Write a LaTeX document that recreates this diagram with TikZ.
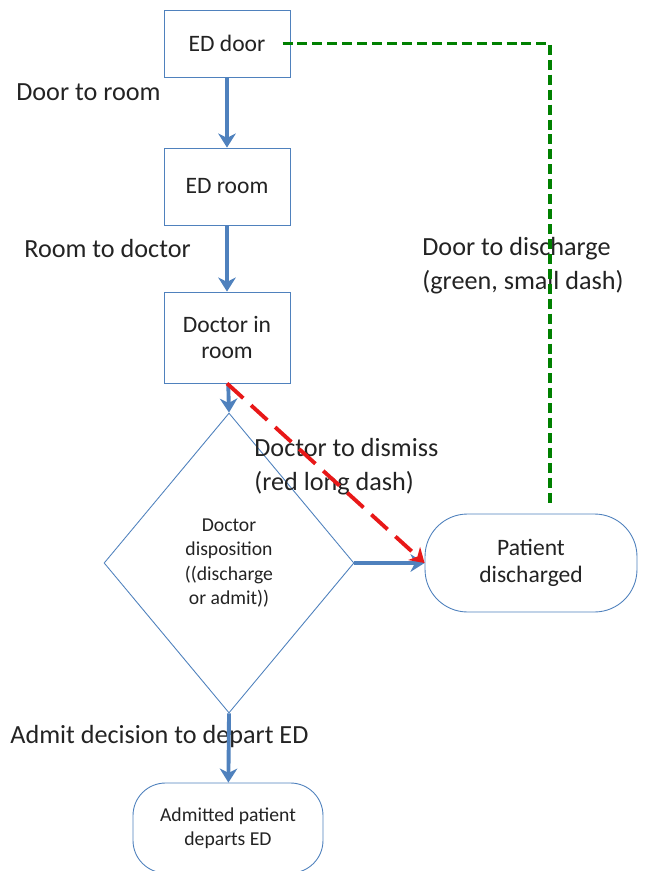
\documentclass[tikz,border=0pt]{standalone}
\usepackage{fontspec}
\setmainfont{Carlito}
\usetikzlibrary{arrows.meta,shapes.geometric}
\definecolor{edblue}{RGB}{79,129,189}
\definecolor{edgreen}{RGB}{0,128,0}
\definecolor{edred}{RGB}{232,24,24}
\definecolor{edtext}{RGB}{35,35,35}
\tikzset{
  stepbox/.style={draw=edblue, line width=0.5pt, fill=white, text=edtext,
    align=center, minimum width=2.52cm, inner sep=0pt,
    font=\fontsize{13.4}{15.3}\selectfont},
  endbox/.style={stepbox, rounded corners=0.85cm},
  flow/.style={edblue, line width=2.2pt, -{Stealth[length=8pt,width=10pt,inset=2.5pt]}},
  lbl/.style={anchor=west, align=left, text=edtext, inner sep=0pt,
    font=\fontsize{14.9}{19.3}\selectfont},
}
\begin{document}
\begin{tikzpicture}[x=0.02cm, y=-0.02cm]
    \useasboundingbox (0,0) rectangle (646,871);
    % Steps
    \node[stepbox, minimum height=1.34cm] (eddoor) at (227,43.5) {ED door};
    \node[stepbox, minimum height=1.54cm] (edroom) at (227,186.5) {ED room};
    \node[stepbox, minimum height=1.82cm] (docroom) at (227,337.5) {Doctor in\\room};
    \node[diamond, draw=edblue, line width=0.5pt, text=edtext, align=center,
      minimum width=5cm, minimum height=6cm, inner sep=0pt,
      font=\fontsize{11.2}{13.9}\selectfont] (dispo) at (229,563)
      {Doctor\\disposition\\((discharge\\or admit))};
    \node[endbox, minimum width=4.24cm, minimum height=1.96cm] (discharged) at (531,563)
      {Patient\\discharged};
    \node[endbox, minimum width=3.8cm, minimum height=1.8cm, rounded corners=0.65cm,
      font=\fontsize{11.2}{13.6}\selectfont] (admitted) at (228,828)
      {Admitted patient\\departs ED};
    %
    % Labels
    \node[lbl] (lroom) at (16,92) {Door to room};
    \node[lbl] (ldoctor) at (24,249) {Room to doctor};
    \node[lbl] (ldisch) at (422,266) {Door to discharge\\(green, small dash)};
    \node[lbl] (ldismiss) at (254,467) {Doctor to dismiss\\(red long dash)};
    \node[lbl] (ladmit) at (10,737) {Admit decision to depart ED};
    %
    % Flow
    \draw[flow] (eddoor) -- (edroom);
    \draw[flow] (edroom) -- (docroom);
    \draw[flow] (docroom) -- (dispo.north);
    \draw[flow] (dispo.east) -- (discharged.west);
    \draw[flow] (dispo.south) -- (admitted);
    %
    \draw[edred, line width=2.2pt, dash pattern=on 12.5pt off 6pt,
      -{Stealth[length=8pt,width=10pt,inset=2.5pt]}] (docroom.south) -- (discharged.west);
    %
    \coordinate (gturn) at (550,43.5);
    \coordinate (gend) at (550,505);
    \draw[edgreen, line width=2pt, dash pattern=on 5.7pt off 2.8pt]
      ([xshift=-4.5pt]eddoor.east) -- (gturn) -- (gend);
\end{tikzpicture}
\end{document}
